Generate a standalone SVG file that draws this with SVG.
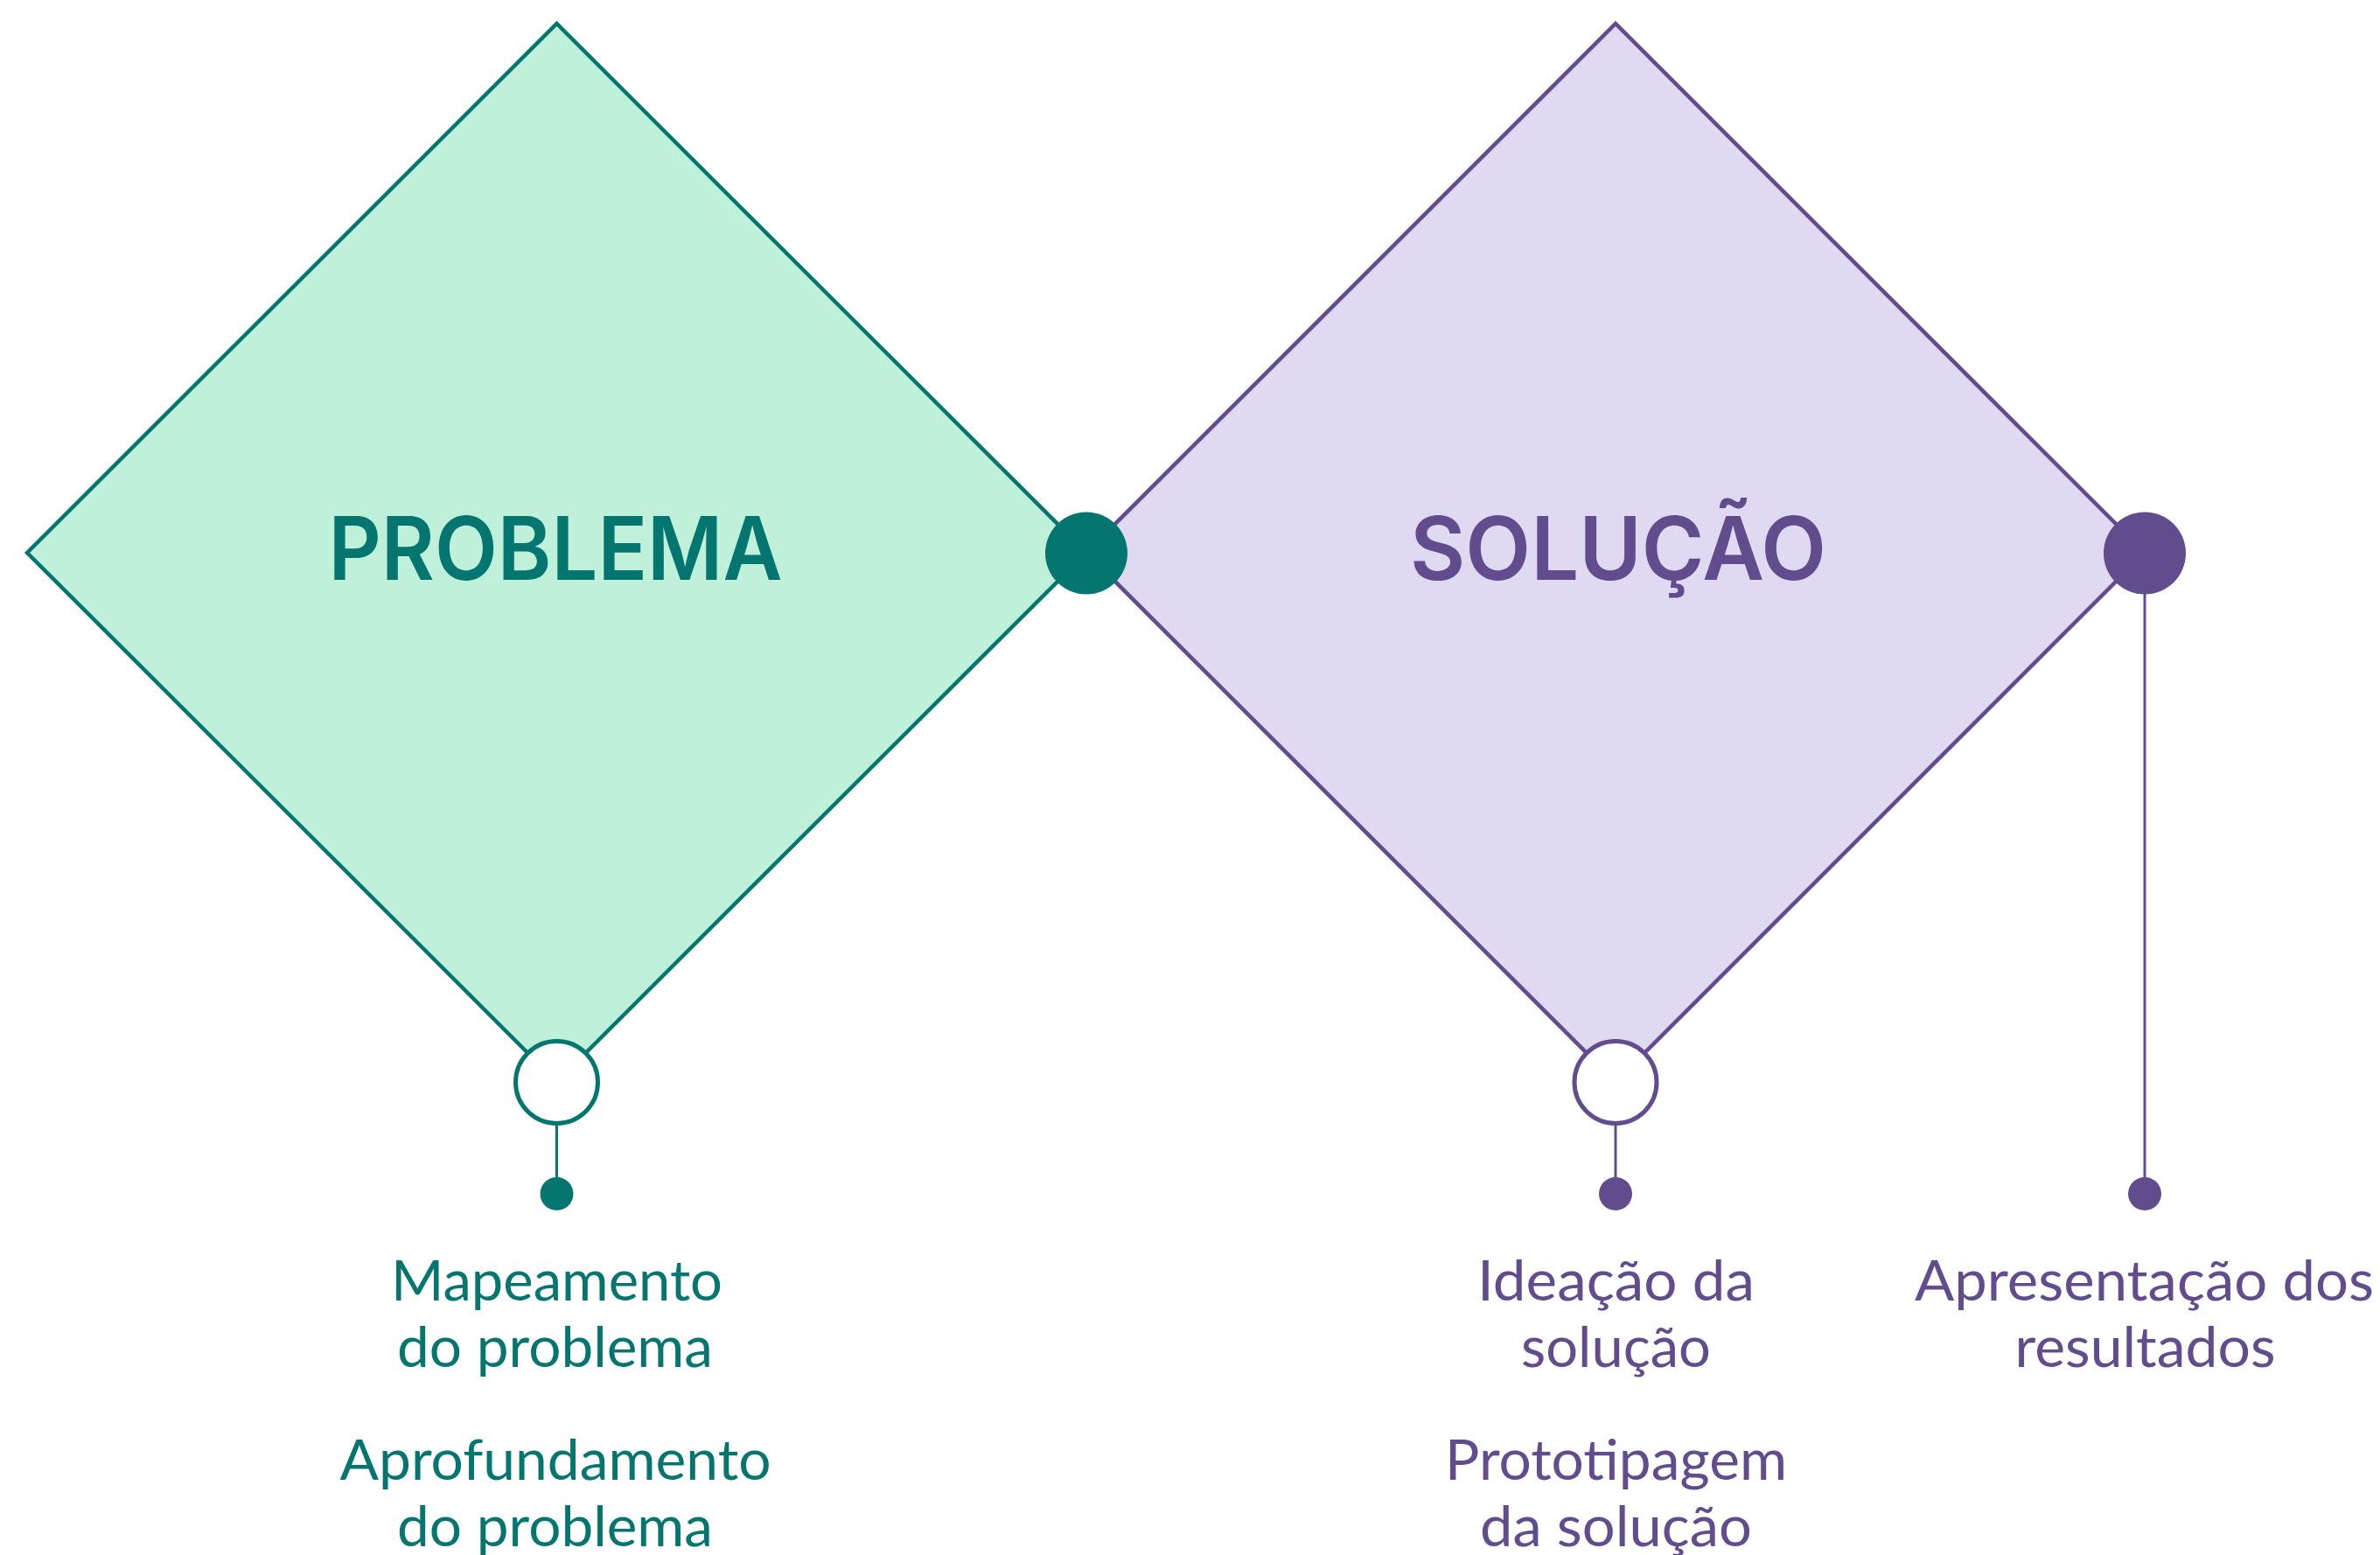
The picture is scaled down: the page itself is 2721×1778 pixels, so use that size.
<svg xmlns="http://www.w3.org/2000/svg" width="2721" height="1778" viewBox="0 0 2721 1778">
  <style>
    .teal-shape { fill: #BFF0DA; stroke: #04756F; stroke-width: 4.5; stroke-linejoin: miter; }
    .purple-shape { fill: #DFD9F1; stroke: #614C8D; stroke-width: 4.5; stroke-linejoin: miter; }
    .title { font-family: Inter, "Liberation Sans", sans-serif; font-weight: 600; font-size: 100px; text-anchor: middle; }
    .label { font-family: Lato, "Open Sans", "Liberation Sans", sans-serif; font-weight: 400; font-size: 64px; text-anchor: middle; }
    .teal-text { fill: #04756F; }
    .purple-text { fill: #614C8D; }
    .ring-teal { fill: #FFFFFF; stroke: #04756F; stroke-width: 5; }
    .ring-purple { fill: #FFFFFF; stroke: #614C8D; stroke-width: 5; }
    .line-teal { stroke: #04756F; stroke-width: 3; fill: none; }
    .line-purple { stroke: #614C8D; stroke-width: 3; fill: none; }
  </style>
  <rect x="0" y="0" width="2721" height="1778" fill="#FFFFFF"/>

  <g id="node-problema">
    <polygon class="teal-shape" points="31,632 636.5,27 1242,632 636.5,1237"/>
    <text class="title teal-text" x="635" y="663" textLength="519" lengthAdjust="spacingAndGlyphs">PROBLEMA</text>
  </g>

  <g id="node-solucao">
    <polygon class="purple-shape" points="1242,632 1847,27 2452,632 1847,1237"/>
    <text class="title purple-text" x="1850" y="663" textLength="476" lengthAdjust="spacingAndGlyphs">SOLUÇÃO</text>
  </g>

  <g id="connectors">
    <line class="line-teal" x1="636.5" y1="1284" x2="636.5" y2="1365"/>
    <line class="line-purple" x1="1847" y1="1284" x2="1847" y2="1365"/>
    <line class="line-purple" x1="2452" y1="632" x2="2452" y2="1365"/>
  </g>

  <g id="dot-center">
    <circle cx="1242" cy="632.5" r="47" fill="#04756F"/>
  </g>
  <g id="dot-right">
    <circle cx="2452" cy="632.5" r="47" fill="#614C8D"/>
  </g>

  <g id="ring-problema">
    <circle class="ring-teal" cx="636.5" cy="1237.5" r="47"/>
  </g>
  <g id="ring-solucao">
    <circle class="ring-purple" cx="1847" cy="1237.5" r="47"/>
  </g>

  <g id="node-mapeamento">
    <circle cx="636.5" cy="1365" r="19" fill="#04756F"/>
    <text class="label teal-text" x="636.5" y="1487" textLength="379" lengthAdjust="spacingAndGlyphs">Mapeamento</text>
    <text class="label teal-text" x="634.5" y="1563" textLength="361" lengthAdjust="spacingAndGlyphs">do problema</text>
  </g>

  <g id="node-aprofundamento">
    <text class="label teal-text" x="635" y="1692" textLength="493" lengthAdjust="spacingAndGlyphs">Aprofundamento</text>
    <text class="label teal-text" x="634.5" y="1768" textLength="361" lengthAdjust="spacingAndGlyphs">do problema</text>
  </g>

  <g id="node-ideacao">
    <circle cx="1847" cy="1365" r="19" fill="#614C8D"/>
    <text class="label purple-text" x="1847.5" y="1487" textLength="317" lengthAdjust="spacingAndGlyphs">Ideação da</text>
    <text class="label purple-text" x="1847.5" y="1563" textLength="217" lengthAdjust="spacingAndGlyphs">solução</text>
  </g>

  <g id="node-prototipagem">
    <text class="label purple-text" x="1847.5" y="1692" textLength="391" lengthAdjust="spacingAndGlyphs">Prototipagem</text>
    <text class="label purple-text" x="1847.5" y="1768" textLength="311" lengthAdjust="spacingAndGlyphs">da solução</text>
  </g>

  <g id="node-apresentacao">
    <circle cx="2452" cy="1365" r="19" fill="#614C8D"/>
    <text class="label purple-text" x="2451.5" y="1487" textLength="525" lengthAdjust="spacingAndGlyphs">Apresentação dos</text>
    <text class="label purple-text" x="2452.5" y="1563" textLength="298" lengthAdjust="spacingAndGlyphs">resultados</text>
  </g>
</svg>
